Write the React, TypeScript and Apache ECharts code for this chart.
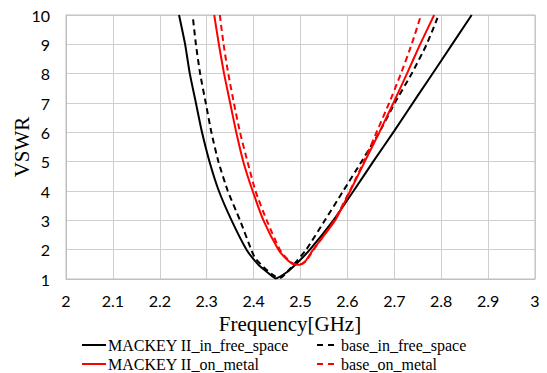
import React, { useEffect, useRef } from "react";
import * as echarts from "echarts";

// Frequency [GHz] and VSWR readings for each curve
const mackeyFreeFreq = [2.241, 2.254, 2.264, 2.277, 2.290, 2.306, 2.326, 2.353, 2.385, 2.410, 2.430, 2.447, 2.470, 2.490, 2.520, 2.570, 2.613, 2.655, 2.700, 2.750, 2.800, 2.865];
const mackeyFreeVswr = [10, 9, 8, 7, 6, 5, 4, 3, 2, 1.49, 1.22, 1.02, 1.22, 1.5, 2.0, 3, 4, 5, 6.05, 7.25, 8.44, 10];

const baseFreeFreq = [2.271, 2.277, 2.286, 2.298, 2.310, 2.325, 2.345, 2.371, 2.395, 2.403, 2.425, 2.445, 2.457, 2.475, 2.512, 2.552, 2.591, 2.630, 2.668, 2.701, 2.737, 2.769, 2.792];
const baseFreeVswr = [9.85, 9, 8, 7, 6, 5, 4, 3, 2, 1.72, 1.35, 1.1, 1.04, 1.3, 2, 3, 4, 5, 6, 7, 8, 9, 9.9];

const mackeyMetalFreq = [2.316, 2.326, 2.337, 2.350, 2.363, 2.378, 2.398, 2.421, 2.453, 2.470, 2.485, 2.499, 2.510, 2.527, 2.574, 2.606, 2.637, 2.668, 2.698, 2.727, 2.755, 2.785];
const mackeyMetalVswr = [10, 9, 8, 7, 6, 5, 4, 3, 2, 1.68, 1.5, 1.49, 1.6, 2, 3, 4, 5, 6, 7, 8, 9, 10];

const baseMetalFreq = [2.328, 2.336, 2.346, 2.358, 2.371, 2.387, 2.404, 2.428, 2.456, 2.472, 2.488, 2.500, 2.512, 2.528, 2.572, 2.605, 2.635, 2.662, 2.689, 2.714, 2.737, 2.757];
const baseMetalVswr = [10, 9, 8, 7, 6, 5, 4, 3, 2, 1.68, 1.5, 1.5, 1.62, 2, 3, 4, 5, 6, 7, 8, 9, 10];

const seriesNames = ["MACKEY II_in_free_space", "base_in_free_space", "MACKEY II_on_metal", "base_on_metal"];
const seriesColors = ["#000000", "#000000", "#ff0000", "#ff0000"];
const seriesDashed = [false, true, false, true];

const zip = (xs: number[], ys: number[]) => xs.map((x, i) => [x, ys[i]]);

export default function App() {
  const ref = useRef<HTMLDivElement>(null);
  useEffect(() => {
    if (!ref.current) return;
    const chart = echarts.init(ref.current, null, { renderer: "svg" });
    const serif = "Liberation Serif";
    const sans = "Lato";
    const mk = (i: number, data: number[][]) => ({
      name: seriesNames[i],
      type: "line",
      data,
      showSymbol: false,
      symbol: "none",
      smooth: 0.2,
      lineStyle: { color: seriesColors[i], width: 2, type: seriesDashed[i] ? [6, 4] : "solid" },
      itemStyle: { color: seriesColors[i] },
    });
    // legend drawn as graphic entries (2 columns x 2 rows)
    const legendPos = [
      { x: 82, y: 345, w: 24 },
      { x: 317, y: 345, w: 22 },
      { x: 82, y: 364, w: 24 },
      { x: 317, y: 364, w: 22 },
    ];
    const legendGraphics: any[] = [];
    seriesNames.forEach((name, i) => {
      const p = legendPos[i];
      legendGraphics.push({
        type: "line",
        shape: { x1: p.x, y1: p.y, x2: p.x + p.w, y2: p.y },
        style: { stroke: seriesColors[i], lineWidth: 2, lineDash: seriesDashed[i] ? [6, 5] : null },
        silent: true,
      });
      legendGraphics.push({
        type: "text",
        x: p.x + p.w + 2,
        y: p.y,
        style: { text: name, fontFamily: serif, fontSize: 16, fill: "#000", align: "left", verticalAlign: "middle" },
        silent: true,
      });
    });
    chart.setOption({
      animation: false,
      grid: { left: 66, right: 12, top: 15, bottom: 94 },
      xAxis: {
        type: "value", min: 2, max: 3, interval: 0.1,
        axisLine: { show: true, lineStyle: { color: "#bfbfbf", width: 1 } },
        axisTick: { show: false },
        splitLine: { show: true, lineStyle: { color: "#cfcfcf", width: 1 } },
        axisLabel: { margin: 13, fontFamily: sans, fontSize: 16, color: "#000", formatter: (v: number) => String(Math.round(v * 10) / 10) },
      },
      yAxis: {
        type: "value", min: 1, max: 10, interval: 1,
        axisLine: { show: true, lineStyle: { color: "#bfbfbf", width: 1 } },
        axisTick: { show: false },
        splitLine: { show: true, lineStyle: { color: "#cfcfcf", width: 1 } },
        axisLabel: { margin: 16, fontFamily: sans, fontSize: 16, color: "#000" },
      },
      graphic: [
        { type: "rect", shape: { x: 66, y: 15, width: 469, height: 264 }, style: { fill: "none", stroke: "#bfbfbf", lineWidth: 1 }, silent: true, z: 1 },
        { type: "text", x: 290, y: 324, style: { text: "Frequency[GHz]", fontFamily: serif, fontSize: 21, fill: "#000", align: "center", verticalAlign: "middle" } },
        { type: "text", x: 22, y: 147, rotation: Math.PI / 2, style: { text: "VSWR", fontFamily: serif, fontSize: 21, fill: "#000", align: "center", verticalAlign: "middle" } },
        ...legendGraphics,
      ],
      series: [
        mk(0, zip(mackeyFreeFreq, mackeyFreeVswr)),
        mk(1, zip(baseFreeFreq, baseFreeVswr)),
        mk(2, zip(mackeyMetalFreq, mackeyMetalVswr)),
        mk(3, zip(baseMetalFreq, baseMetalVswr)),
      ],
    });
    return () => chart.dispose();
  }, []);
  return <div ref={ref} style={{ width: 547, height: 373, position: "absolute", left: 0, top: 0 }} />;
}
